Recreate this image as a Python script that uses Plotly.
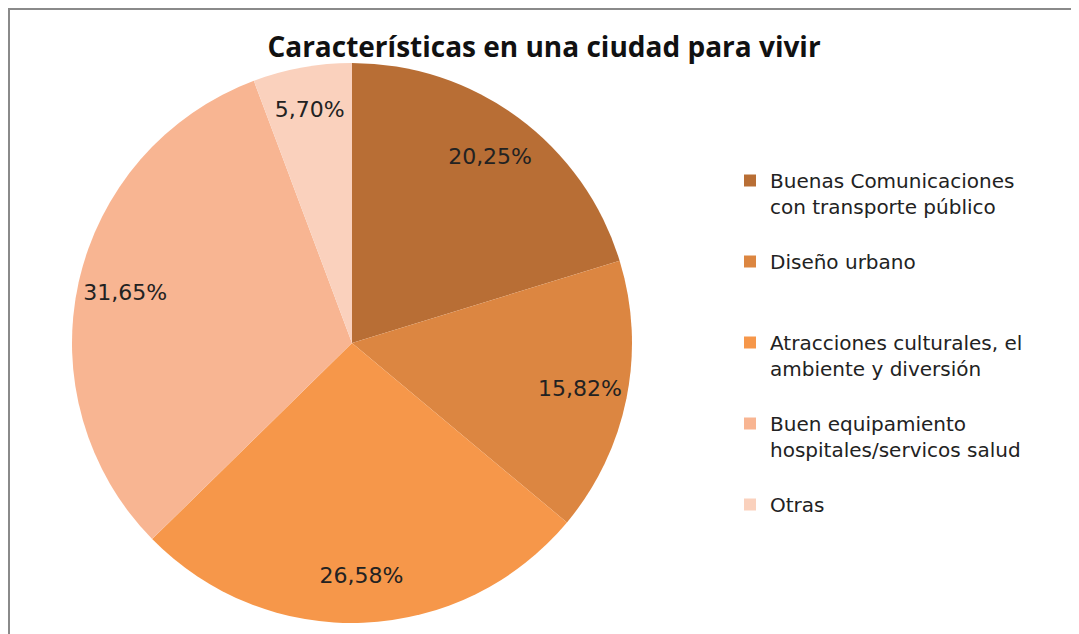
import plotly.graph_objects as go

categories = [
    "Buenas Comunicaciones<br>con transporte público<br> ",
    "Diseño urbano<br> <br> ",
    "Atracciones culturales, el<br>ambiente y diversión<br> ",
    "Buen equipamiento<br>hospitales/servicos salud<br> ",
    "Otras",
]
values = [20.25, 15.82, 26.58, 31.65, 5.70]
colors = ["#B86E35", "#DC8641", "#F6974A", "#F8B592", "#FAD1BD"]
labels_text = [f"{v:.2f}%".replace(".", ",") for v in values]
title_text = "Características en una ciudad para vivir"

W, H = 1079, 634
OFF = 8  # page offset of the plot area
cx, cy, r = 352 - OFF, 343 - OFF, 280
dom = dict(x=[(cx - r) / W, (cx + r) / W], y=[(H - cy - r) / H, (H - cy + r) / H])

fig = go.Figure()
fig.add_trace(go.Pie(
    labels=categories,
    values=values,
    textinfo="none",
    marker=dict(colors=colors, line=dict(width=0)),
    sort=False,
    direction="clockwise",
    rotation=0,
    domain=dom,
))
# transparent ring carrying the percentage labels (placed farther from center)
fig.add_trace(go.Pie(
    labels=categories,
    values=values,
    text=labels_text,
    textinfo="text",
    textposition="inside",
    insidetextorientation="horizontal",
    textfont=dict(family="DejaVu Sans", size=22, color="#222222"),
    marker=dict(colors=["rgba(0,0,0,0)"] * len(values), line=dict(width=0)),
    sort=False,
    direction="clockwise",
    rotation=0,
    hole=0.66,
    showlegend=False,
    hoverinfo="skip",
    domain=dom,
))

fig.update_layout(
    width=W, height=H,
    margin=dict(l=0, r=0, t=0, b=0),
    paper_bgcolor="white",
    plot_bgcolor="white",
    title=dict(text="<b>" + title_text + "</b>", x=(544 - OFF) / W, xanchor="center",
               y=1 - (47 - OFF) / H, yanchor="middle",
               font=dict(family="Open Sans", size=28, color="#111111")),
    legend=dict(x=(770 - OFF - 40) / W, xanchor="left", y=1 - (161 - OFF) / H, yanchor="top",
                valign="top", font=dict(family="DejaVu Sans", size=20, color="#222222"),
                bgcolor="rgba(0,0,0,0)"),
    shapes=[dict(type="rect", xref="paper", yref="paper", x0=1 / W, x1=1.05,
                 y0=-0.05, y1=1 - 1 / H,
                 line=dict(color="#8a8a8a", width=2), fillcolor="rgba(0,0,0,0)", layer="below")],
)

fig.write_html("out.html")
